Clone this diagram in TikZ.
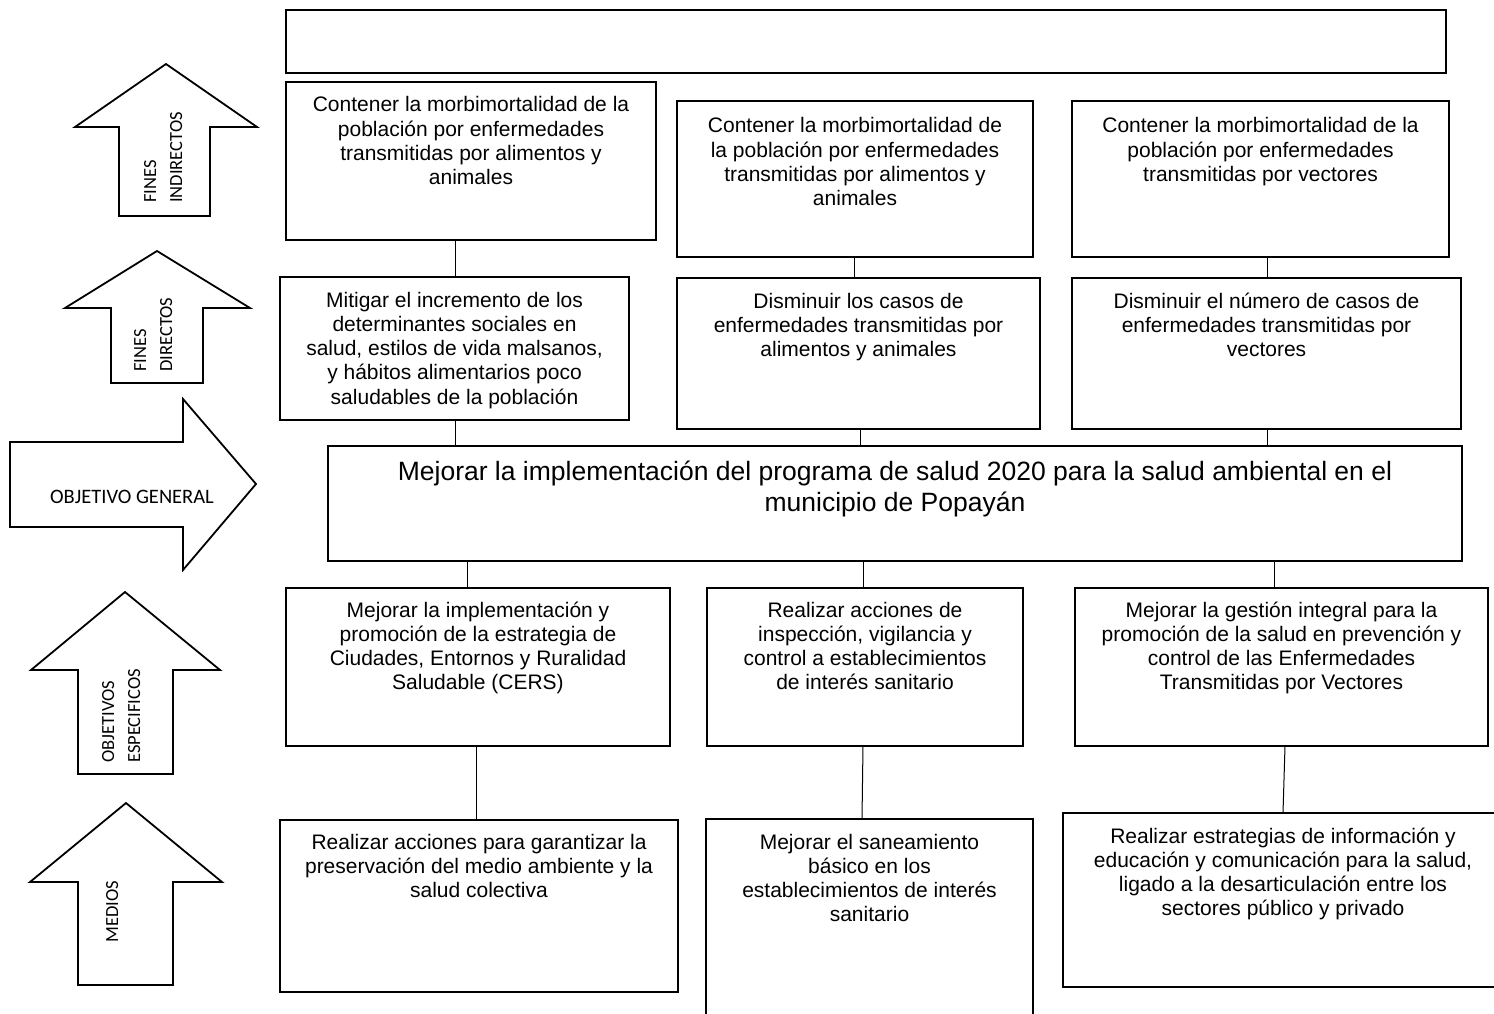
\documentclass[tikz,border=0pt]{standalone}
\usepackage{fontspec}
\setmainfont{Liberation Sans}
\newfontfamily\calib{Carlito}
\newcommand{\bx}[4]{\parbox[c][#2pt][t]{#1pt}{\centering\rule{0pt}{#3pt}#4\par}}
\begin{document}
\begin{tikzpicture}[x=1pt,y=-1pt,
  box/.style={draw, line width=1.6pt, inner sep=0pt, outer sep=0pt, anchor=north west,
              font=\fontsize{21}{24.3}\selectfont},
  bigbox/.style={box, font=\fontsize{26.5}{31}\selectfont},
  conn/.style={line width=1pt},
  blockarrow/.style={draw, line width=1.8pt, line join=miter},
  lab/.style={font=\calib\fontsize{18.5}{26}\selectfont, inner sep=0pt, align=left}]
\useasboundingbox (0,0) rectangle (1494,1014);
\clip (0,0) rectangle (1494,1014);

% ---- block arrows on the left ----
\draw[blockarrow] (166,64) -- (257,127) -- (210,127) -- (210,216) -- (119,216) -- (119,127) -- (75,127) -- cycle;
\node[lab, rotate=90, anchor=north west] (a1t) at (144,203) {FINES\\INDIRECTOS};

\draw[blockarrow] (157,251) -- (250,308) -- (203,308) -- (203,383) -- (111,383) -- (111,308) -- (65,308) -- cycle;
\node[lab, rotate=90, anchor=north west] (a2t) at (134,372) {FINES\\DIRECTOS};

\draw[blockarrow] (10,442) -- (183,442) -- (183,399) -- (256,484) -- (183,570) -- (183,527) -- (10,527) -- cycle;
\node[lab, font=\calib\fontsize{20.5}{26}\selectfont] (a3t) at (132,497) {OBJETIVO GENERAL};

\draw[blockarrow] (125,592) -- (220,670) -- (173,670) -- (173,774) -- (78,774) -- (78,670) -- (31,670) -- cycle;
\node[lab, rotate=90, anchor=north west] (a4t) at (102,763) {OBJETIVOS\\ESPECIFICOS};

\draw[blockarrow] (126,803) -- (222,882) -- (173,882) -- (173,985) -- (78,985) -- (78,882) -- (30,882) -- cycle;
\node[lab, rotate=90, anchor=north west] (a5t) at (106,943) {MEDIOS};

% ---- boxes ----
\node[box] (top) at (286,10) {\bx{1160}{63}{0}{}};

\node[box] (fi1) at (286,82) {\bx{370}{158}{30}{Contener la morbimortalidad de la\\población por enfermedades\\transmitidas por alimentos y\\animales}};
\node[box] (fi2) at (677,101) {\bx{356}{156}{32}{Contener la morbimortalidad de\\la población por enfermedades\\transmitidas por alimentos y\\animales}};
\node[box] (fi3) at (1072,101) {\bx{377}{156}{32}{Contener la morbimortalidad de la\\población por enfermedades\\transmitidas por vectores}};

\node[box] (fd1) at (280,277) {\bx{349}{143}{30}{Mitigar el incremento de los\\determinantes sociales en\\salud, estilos de vida malsanos,\\y hábitos alimentarios poco\\saludables de la población}};
\node[box] (fd2) at (677,278) {\bx{363}{151}{30}{Disminuir los casos de\\enfermedades transmitidas por\\alimentos y animales}};
\node[box] (fd3) at (1072,278) {\bx{389}{151}{30}{Disminuir el número de casos de\\enfermedades transmitidas por\\vectores}};

\node[bigbox] (og) at (328,446) {\bx{1134}{115}{34}{Mejorar la implementación del programa de salud 2020 para la salud ambiental en el\\municipio de Popayán}};

\node[box] (oe1) at (286,588) {\bx{384}{158}{29}{Mejorar la implementación y\\promoción de la estrategia de\\Ciudades, Entornos y Ruralidad\\Saludable (CERS)}};
\node[box] (oe2) at (707,588) {\bx{316}{158}{29}{Realizar acciones de\\inspección, vigilancia y\\control a establecimientos\\de interés sanitario}};
\node[box] (oe3) at (1075,588) {\bx{413}{158}{29}{Mejorar la gestión integral para la\\promoción de la salud en prevención y\\control de las Enfermedades\\Transmitidas por Vectores}};

\node[box] (m1) at (280,820) {\bx{398}{172}{29}{Realizar acciones para garantizar la\\preservación del medio ambiente y la\\salud colectiva}};
\node[box] (m2) at (706,819) {\bx{327}{210}{30}{Mejorar el saneamiento\\básico en los\\establecimientos de interés\\sanitario}};
\node[box] (m3) at (1063,813) {\bx{440}{174}{30}{Realizar estrategias de información y\\educación y comunicación para la salud,\\ligado a la desarticulación entre los\\sectores público y privado}};

% ---- connectors ----
\draw[conn] (fi1.south -| 455,0) -- (fd1.north -| 455,0);
\draw[conn] (fi2.south -| 854,0) -- (fd2.north -| 854,0);
\draw[conn] (fi3.south -| 1267,0) -- (fd3.north -| 1267,0);
\draw[conn] (fd1.south -| 455,0) -- (og.north -| 455,0);
\draw[conn] (fd2.south -| 860,0) -- (og.north -| 860,0);
\draw[conn] (fd3.south -| 1267,0) -- (og.north -| 1267,0);
\draw[conn] (og.south -| 467,0) -- (oe1.north -| 467,0);
\draw[conn] (og.south -| 863,0) -- (oe2.north -| 863,0);
\draw[conn] (og.south -| 1274,0) -- (oe3.north -| 1274,0);
\draw[conn] (oe1.south -| 476,0) -- (m1.north -| 476,0);
\draw[conn] (oe2.south -| 863,0) -- (m2.north -| 862,0);
\draw[conn] (oe3.south -| 1285,0) -- (m3.north -| 1283,0);
\end{tikzpicture}
\end{document}
